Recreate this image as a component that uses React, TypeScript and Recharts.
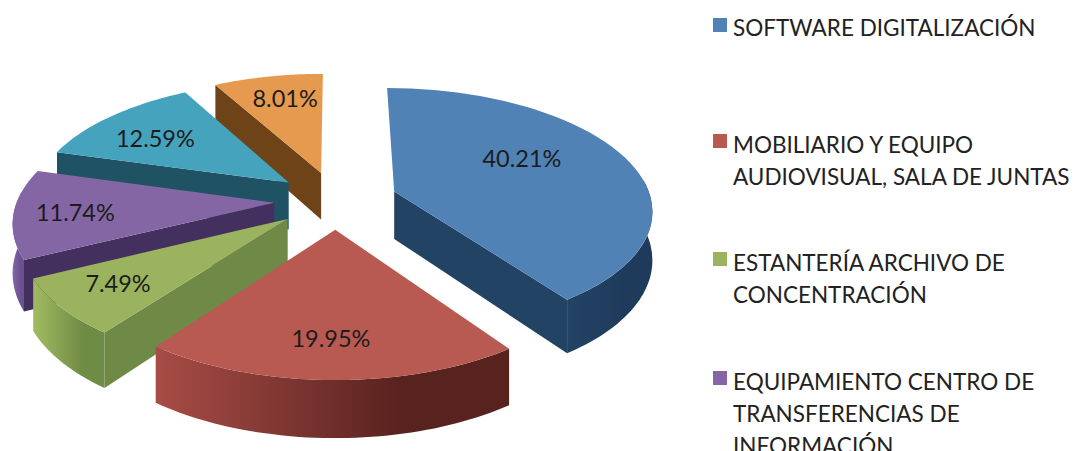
import { PieChart, Pie, Legend } from 'recharts';

// legend order, clockwise from 12 o'clock
const sliceValues = [40.21, 19.95, 7.49, 11.74, 12.59, 8.01];
const topColors = ['#5082b6', '#b85a52', '#9bb35f', '#8566a5', '#46a3bd', '#e59a4f'];
const arcLightColors = ['#234364', '#a84c46', '#a2bb62', '#8566a5', '#2a6a7c', '#8a5520'];
const arcDarkColors = ['#1f3b5c', '#58221e', '#6f8c44', '#6a5290', '#215868', '#6e4318'];
const edgeColors = ['#234364', '#5a2420', '#6f8a47', '#44305f', '#1f5364', '#6e4318'];
const labelReach = [0.605, 0.75, 0.758, 0.765, 0.7, 0.75];
const labelTurn = [-8.2, 0.3, 0.7, -0.3, -2.2, 1.3];

// the last two categories fall below the bottom edge of the picture
const legendLines = [
  ['SOFTWARE DIGITALIZACIÓN'],
  ['MOBILIARIO Y EQUIPO', 'AUDIOVISUAL, SALA DE JUNTAS'],
  ['ESTANTERÍA ARCHIVO DE', 'CONCENTRACIÓN'],
  ['EQUIPAMIENTO CENTRO DE', 'TRANSFERENCIAS DE', 'INFORMACIÓN'],
];
const legendTops = [12, 129, 247, 366];

const FONT = 'Lato, sans-serif';
const EXPLODE = 0.24; // share of the radius every slice is pulled out by
const SQUASH = 120 / 257;
const PERSPECTIVE = 0.14;
const DEPTH = 48;

// Recharts runs the slices counterclockwise from 12 o'clock, so reversing them
// paints the back slices first and keeps the clockwise look of the original
const pieData = sliceValues
  .map((value, i) => ({
    value,
    fill: topColors[i],
    arcLight: arcLightColors[i],
    arcDark: arcDarkColors[i],
    edge: edgeColors[i],
    reach: labelReach[i],
    turn: labelTurn[i],
    id: i,
  }))
  .reverse();

const project = (cx: number, cy: number, r: number, x: number, y: number, z = 0) => {
  const s = 1 / (1 - PERSPECTIVE * y);
  return [cx + r * x * s, cy + r * SQUASH * y * s + z * s];
};

const toPath = (pts: number[][]) =>
  'M' + pts.map((p) => `${p[0].toFixed(1)},${p[1].toFixed(1)}`).join('L') + 'Z';

const clockAngle = (deg: number) => ((90 - deg) * Math.PI) / 180;

function Slice3D(props: any) {
  const { cx, cy, outerRadius: r, startAngle, endAngle, payload, fill } = props;
  const data = payload?.payload ?? payload;
  // clockwise angles measured from 12 o'clock, a < b
  const a = clockAngle(startAngle) < clockAngle(endAngle) ? clockAngle(startAngle) : clockAngle(endAngle);
  const b = clockAngle(startAngle) < clockAngle(endAngle) ? clockAngle(endAngle) : clockAngle(startAngle);
  const shift = a < 0 ? 2 * Math.PI : 0;
  const from = a + shift;
  const to = b + shift;
  const mid = (from + to) / 2;
  const ox = EXPLODE * Math.sin(mid);
  const oy = -EXPLODE * Math.cos(mid);

  const rim = (t: number, z = 0) => project(cx, cy, r, ox + Math.sin(t), oy - Math.cos(t), z);
  const apex = (z = 0) => project(cx, cy, r, ox, oy, z);

  const steps = 48;
  const arc: number[][] = [];
  for (let i = 0; i <= steps; i++) arc.push(rim(from + ((to - from) * i) / steps));

  // the outer wall only shows on the front half
  const wallFrom = Math.max(from, (85 * Math.PI) / 180);
  const wallTo = Math.min(to, (275 * Math.PI) / 180);
  const wallTop: number[][] = [];
  const wallBottom: number[][] = [];
  if (wallTo > wallFrom) {
    for (let i = 0; i <= steps; i++) {
      const t = wallFrom + ((wallTo - wallFrom) * i) / steps;
      wallTop.push(rim(t));
      wallBottom.push(rim(t, DEPTH));
    }
  }
  const gradId = `wall-${data.id}`;

  return (
    <g>
      <defs>
        <linearGradient id={gradId} x1="0" y1="0" x2="1" y2="0">
          <stop offset="0%" stopColor={data.arcLight} />
          <stop offset="70%" stopColor={data.arcDark} />
        </linearGradient>
      </defs>
      {wallTop.length > 0 && (
        <path d={toPath([...wallTop, ...wallBottom.reverse()])} fill={`url(#${gradId})`} />
      )}
      {Math.sin(from) < 0 && (
        <path d={toPath([apex(), rim(from), rim(from, DEPTH), apex(DEPTH)])} fill={data.edge} />
      )}
      {Math.sin(to) > 0 && (
        <path d={toPath([apex(), rim(to), rim(to, DEPTH), apex(DEPTH)])} fill={data.edge} />
      )}
      <path d={toPath([apex(), ...arc])} fill={fill} />
    </g>
  );
}

function SliceLabel(props: any) {
  const { cx, cy, outerRadius: r, midAngle, value, payload } = props;
  const t = ((90 - midAngle + (payload?.turn ?? 0)) * Math.PI) / 180;
  const reach = EXPLODE + (payload?.reach ?? 0.75);
  const [x, y] = project(cx, cy, r, reach * Math.sin(t), -reach * Math.cos(t));
  return (
    <text x={x} y={y} textAnchor="middle" dominantBaseline="central" fontFamily={FONT} fontSize={23.5} fill="#1c1c1c">
      {value.toFixed(2)}%
    </text>
  );
}

function SideLegend() {
  return (
    <div style={{ position: 'relative', width: 363, height: 451, fontFamily: FONT, fontSize: 22.5, color: '#222' }}>
      {legendLines.map((lines, i) => (
        <div key={i} style={{ position: 'absolute', left: 0, top: legendTops[i], lineHeight: '32px' }}>
          <span
            style={{ position: 'absolute', left: 0, top: i === 0 ? 6 : 5, width: 14, height: 14, background: topColors[i] }}
          />
          {lines.map((line) => (
            <div key={line} style={{ marginLeft: 20, whiteSpace: 'nowrap' }}>
              {line}
            </div>
          ))}
        </div>
      ))}
    </div>
  );
}

export default function App() {
  return (
    <div style={{ position: 'absolute', left: 0, top: 0, width: 1076, height: 451, overflow: 'hidden', background: '#fff' }}>
      <PieChart width={1076} height={451} margin={{ top: 0, right: 0, bottom: 0, left: 0 }}>
        <Pie
          data={pieData}
          dataKey="value"
          cx={336}
          cy={200}
          outerRadius={257}
          startAngle={90}
          endAngle={450}
          stroke="none"
          shape={Slice3D}
          label={SliceLabel}
          labelLine={false}
          isAnimationActive={false}
        />
        <Legend
          layout="vertical"
          align="right"
          verticalAlign="top"
          content={SideLegend}
          wrapperStyle={{ left: 713, top: 0, width: 363, height: 451 }}
        />
      </PieChart>
    </div>
  );
}
